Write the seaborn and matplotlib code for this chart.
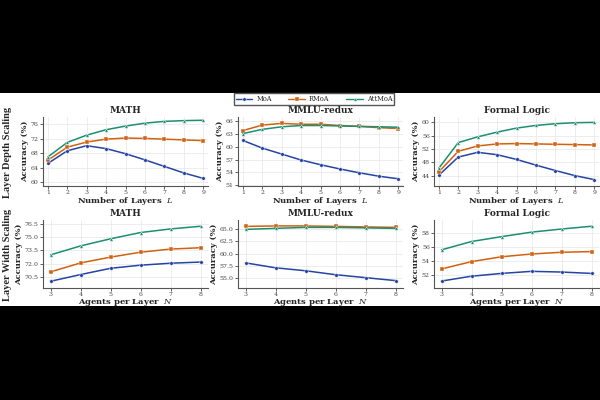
import matplotlib
matplotlib.use('Agg')
import matplotlib.pyplot as plt
import matplotlib.patches as mpatches
import numpy as np
import pandas as pd
import seaborn as sns

# ---- data ----
methods = ['MoA', 'RMoA', 'AttMoA']
layers = [1, 2, 3, 4, 5, 6, 7, 8, 9]
agents = [3, 4, 5, 6, 7, 8]

math_depth_moa = [65.2, 68.7, 70.1, 69.3, 67.9, 66.2, 64.4, 62.6, 61.1]
math_depth_rmoa = [66.1, 69.7, 71.1, 71.9, 72.2, 72.1, 71.9, 71.7, 71.5]
math_depth_att = [67.0, 71.0, 73.0, 74.5, 75.5, 76.3, 76.8, 77.0, 77.1]

mmlu_depth_moa = [61.5, 59.7, 58.3, 56.9, 55.8, 54.8, 53.9, 53.1, 52.5]
mmlu_depth_rmoa = [63.8, 65.1, 65.5, 65.3, 65.3, 65.0, 64.8, 64.5, 64.3]
mmlu_depth_att = [63.1, 64.1, 64.7, 65.0, 65.0, 64.9, 64.8, 64.7, 64.6]

fl_depth_moa = [44.2, 49.6, 51.0, 50.3, 48.9, 47.2, 45.6, 44.1, 42.9]
fl_depth_rmoa = [45.2, 51.3, 52.9, 53.5, 53.6, 53.5, 53.4, 53.3, 53.2]
fl_depth_att = [46.3, 53.9, 55.6, 57.0, 58.2, 59.0, 59.5, 59.8, 59.9]

math_width_moa = [70.05, 70.8, 71.5, 71.85, 72.07, 72.2]
math_width_rmoa = [71.1, 72.1, 72.75, 73.3, 73.65, 73.8]
math_width_att = [73.0, 74.0, 74.8, 75.5, 75.9, 76.2]

mmlu_width_moa = [58.1, 57.1, 56.5, 55.7, 55.1, 54.5]
mmlu_width_rmoa = [65.5, 65.6, 65.6, 65.5, 65.4, 65.3]
mmlu_width_att = [64.9, 65.1, 65.3, 65.3, 65.2, 65.1]

fl_width_moa = [51.1, 51.8, 52.2, 52.5, 52.4, 52.2]
fl_width_rmoa = [52.85, 53.9, 54.6, 55.0, 55.25, 55.35]
fl_width_att = [55.6, 56.8, 57.5, 58.15, 58.6, 59.0]

titles = ['MATH', 'MMLU-redux', 'Formal Logic']
depth_ticks = [[60, 64, 68, 72, 76], [51, 54, 57, 60, 63, 66], [44, 48, 52, 56, 60]]
width_ticks = [[70.5, 72.0, 73.5, 75.0, 76.5], [55.0, 57.5, 60.0, 62.5, 65.0], [52, 54, 56, 58]]
depth_ylim = [(59.0, 78.0), (50.8, 67.0), (41.0, 61.5)]
width_ylim = [(69.3, 76.9), (53.0, 66.8), (50.1, 59.9)]

depth_data = [
    [math_depth_moa, math_depth_rmoa, math_depth_att],
    [mmlu_depth_moa, mmlu_depth_rmoa, mmlu_depth_att],
    [fl_depth_moa, fl_depth_rmoa, fl_depth_att],
]
width_data = [
    [math_width_moa, math_width_rmoa, math_width_att],
    [mmlu_width_moa, mmlu_width_rmoa, mmlu_width_att],
    [fl_width_moa, fl_width_rmoa, fl_width_att],
]

palette = {'MoA': '#2544a3', 'RMoA': '#d2600f', 'AttMoA': '#1b8f70'}
markers = {'MoA': 'o', 'RMoA': 's', 'AttMoA': '^'}


def to_long(xs, series, xname):
    rows = []
    for m, vals in zip(methods, series):
        for x, v in zip(xs, vals):
            rows.append({xname: x, 'Accuracy': v, 'Method': m})
    return pd.DataFrame(rows)


sns.set_theme(style='whitegrid')
plt.rcParams['font.family'] = ['DejaVu Serif']
plt.rcParams['mathtext.fontset'] = 'dejavuserif'

fig = plt.figure(figsize=(6, 4), dpi=100, facecolor='black')
# white band holding the chart (the rest of the picture is black)
fig.patches.append(mpatches.Rectangle((0, 0.235), 1, 0.5325, transform=fig.transFigure,
                                      facecolor='white', edgecolor='none', zorder=-10))

W, H = 600, 400
lefts = [43, 238, 434]
width_px = 165
rows_px = [(117, 186), (220, 288)]


def make_ax(left, top, bottom):
    ax = fig.add_axes([left / W, 1 - bottom / H, width_px / W, (bottom - top) / H])
    ax.set_zorder(1)
    return ax


def draw(ax, df, xname, xs, ticks, ylim, title, xlabel):
    sns.lineplot(data=df, x=xname, y='Accuracy', hue='Method', style='Method',
                 palette=palette, markers=markers, dashes=False, linewidth=1.1,
                 markersize=2.6, markeredgecolor='white', markeredgewidth=0.3,
                 ax=ax, legend=False)
    ax.set_xticks(xs)
    ax.set_yticks(ticks)
    ax.set_ylim(*ylim)
    ax.set_xlim(xs[0] - 0.25, xs[-1] + 0.25)
    ax.set_title(title, fontsize=6.5, fontweight='bold', pad=3)
    ax.set_xlabel(xlabel, fontsize=6, fontweight='bold', labelpad=0)
    ax.set_ylabel('Accuracy (%)', fontsize=6, fontweight='bold', labelpad=1)
    ax.tick_params(axis='both', labelsize=4.5, length=2, width=0.6, pad=1,
                   colors='#444444', left=True, bottom=True)
    ax.grid(True, color='#e6e6e6', linewidth=0.5)
    for s in ['top', 'right']:
        ax.spines[s].set_visible(False)
    for s in ['left', 'bottom']:
        ax.spines[s].set_color('#555555')
        ax.spines[s].set_linewidth(0.8)
    ax.set_facecolor('white')


for i in range(3):
    ax = make_ax(lefts[i], *rows_px[0])
    draw(ax, to_long(layers, depth_data[i], 'L'), 'L', layers, depth_ticks[i],
         depth_ylim[i], titles[i], 'Number of Layers  $L$')

for i in range(3):
    ax = make_ax(lefts[i], *rows_px[1])
    draw(ax, to_long(agents, width_data[i], 'N'), 'N', agents, width_ticks[i],
         width_ylim[i], titles[i], 'Agents per Layer  $N$')
    ax.yaxis.set_major_formatter(matplotlib.ticker.FormatStrFormatter(
        '%.1f' if i < 2 else '%d'))

row_font = ['Liberation Serif', 'DejaVu Serif']
fig.text(8 / W, 1 - 152 / H, 'Layer Depth Scaling', rotation=90, ha='center', va='center',
         fontsize=7.5, fontweight='bold', family=row_font)
fig.text(8 / W, 1 - 255 / H, 'Layer Width Scaling', rotation=90, ha='center', va='center',
         fontsize=7.5, fontweight='bold', family=row_font)

handles = [matplotlib.lines.Line2D([], [], color=palette[m], marker=markers[m], markersize=2.5,
                                   markeredgecolor='white', markeredgewidth=0.3, linewidth=1.0,
                                   label=m) for m in methods]
leg = fig.legend(handles=handles, loc='center', bbox_to_anchor=(314 / W, 1 - 99 / H), ncol=3,
                 fontsize=4.8, frameon=True, fancybox=False, edgecolor='#555555',
                 handlelength=2.5, columnspacing=2.5, borderpad=0.3, handletextpad=0.6,
                 framealpha=1)
leg.set_zorder(5)

fig.savefig('out.png', dpi=100, facecolor='black')
